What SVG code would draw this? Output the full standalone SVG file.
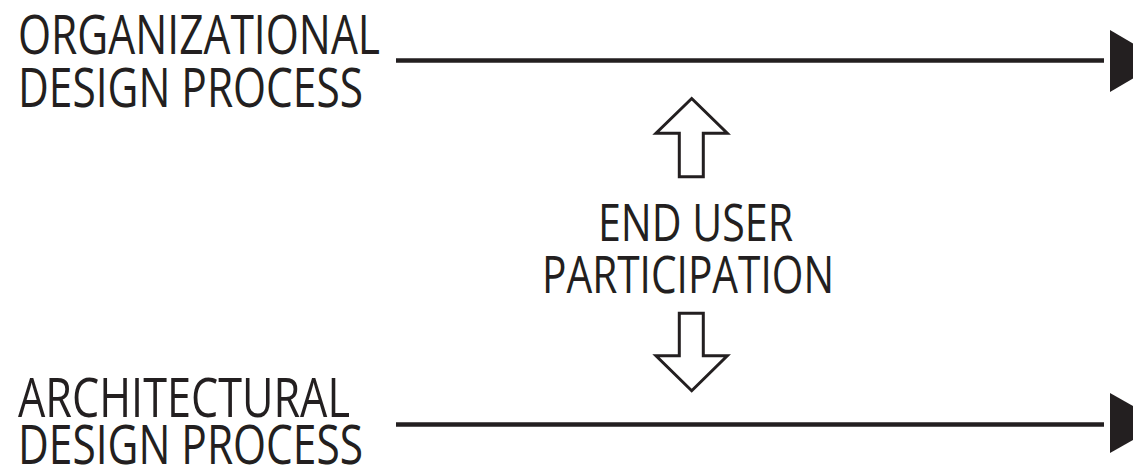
<svg xmlns="http://www.w3.org/2000/svg" width="1133" height="470" viewBox="0 0 1133 470">
<style>
.lbl{font-family:"Open Sans","Noto Sans","Liberation Sans",sans-serif;font-size:54px;fill:#231f20}
.mid{font-size:51px;text-anchor:middle}
.flow{stroke:#231f20;stroke-width:4.5;fill:none}
.head{fill:#231f20}
.block{fill:#fff;stroke:#231f20;stroke-width:3;stroke-linejoin:miter}
</style>
<rect width="1133" height="470" fill="#fff"/>
<g id="org-label">
<text class="lbl" x="18" y="54" textLength="362" lengthAdjust="spacingAndGlyphs">ORGANIZATIONAL</text>
<text class="lbl" x="18" y="107" textLength="345" lengthAdjust="spacingAndGlyphs">DESIGN PROCESS</text>
</g>
<g id="arch-label">
<text class="lbl" x="18" y="417" textLength="332" lengthAdjust="spacingAndGlyphs">ARCHITECTURAL</text>
<text class="lbl" x="18" y="464" textLength="345" lengthAdjust="spacingAndGlyphs">DESIGN PROCESS</text>
</g>
<g id="participation">
<text class="lbl mid" x="695.5" y="241" textLength="195" lengthAdjust="spacingAndGlyphs">END USER</text>
<text class="lbl mid" x="688" y="293" textLength="292" lengthAdjust="spacingAndGlyphs">PARTICIPATION</text>
</g>
<g id="connectors">
<line class="flow" x1="396" y1="60.5" x2="1104" y2="60.5"/>
<polygon class="head" points="1110,30 1163,61 1110,92"/>
<line class="flow" x1="396" y1="424.5" x2="1104" y2="424.5"/>
<polygon class="head" points="1110,393 1163,423 1110,453"/>
<polygon id="up-arrow" class="block" points="691.7,98.5 727.3,133.3 703.3,133.3 703.3,176.7 679.3,176.7 679.3,133.3 656,133.3"/>
<polygon id="down-arrow" class="block" points="679.3,313.3 703.3,313.3 703.3,355.7 727.3,355.7 691.7,390.7 656,355.7 679.3,355.7"/>
</g>
</svg>
